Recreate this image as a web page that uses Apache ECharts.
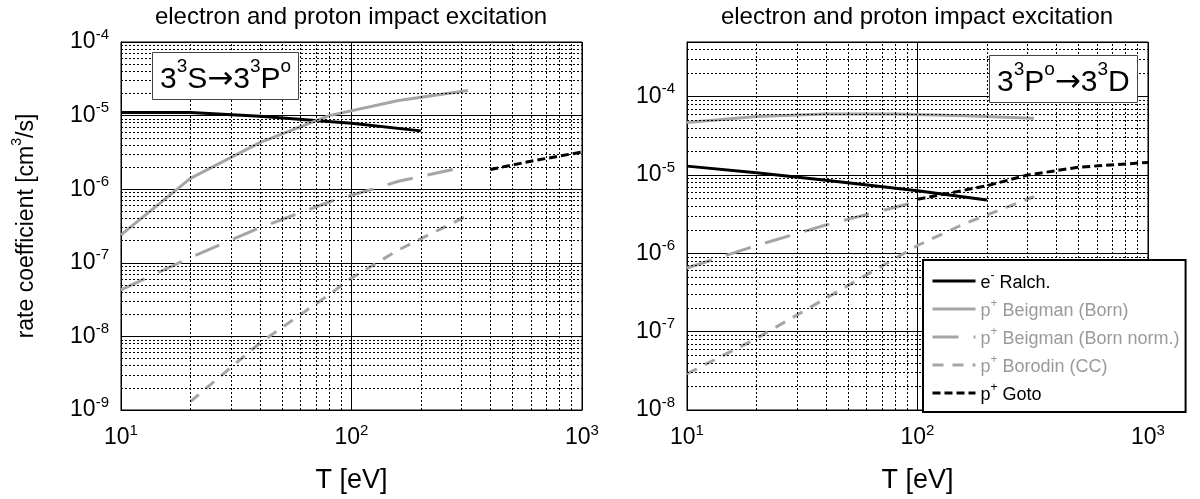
<!DOCTYPE html>
<html>
<head>
<meta charset="utf-8">
<script src="https://cdn.jsdelivr.net/npm/echarts@6.0.0/dist/echarts.min.js"></script>
<style>
html,body{margin:0;padding:0;background:#fff;}
#chart{width:1200px;height:499px;}
</style>
</head>
<body>
<div id="chart"></div>
<script>
// ---------------- data ----------------
const seriesNames = ['e- Ralch.', 'p+ Beigman (Born)', 'p+ Beigman (Born norm.)', 'p+ Borodin (CC)', 'p+ Goto'];
const titleText = 'electron and proton impact excitation';
const xAxisName = 'T [eV]';
const yAxisName = '{t|rate coefficient [cm}{s|3}{t|/s]}';
const leftLabel = '{n|3}{s|3}{n|S}{a|\u2192}{n|3}{s|3}{n|P}{s|o}';
const rightLabel = '{n|3}{s|3}{n|P}{s|o}{a|\u2192}{n|3}{s|3}{n|D}';
const legendLabels = ['{t|e}{u|-}{t| Ralch.}', '{t|p}{u|+}{t| Beigman (Born)}', '{t|p}{u|+}{t| Beigman (Born norm.)}', '{t|p}{u|+}{t| Borodin (CC)}', '{t|p}{u|+}{t| Goto}'];

// axis ranges
const xRange = [10, 1000];
const leftYRange = [1e-9, 1e-4];
const rightYRange = [1e-8, 5e-4];

// Left panel: 3^3S -> 3^3P^o
const leftRalchT = [10, 20, 40, 100, 200];
const leftRalchV = [1.1e-5, 1.1e-5, 9.8e-6, 7.9e-6, 6.2e-6];
const leftBornT = [10, 20, 40, 80, 160, 320];
const leftBornV = [2.4e-7, 1.4e-6, 4.3e-6, 1.0e-5, 1.6e-5, 2.2e-5];
const leftNormT = [10, 20, 40, 80, 160, 320];
const leftNormV = [4.3e-8, 1.18e-7, 3.0e-7, 6.7e-7, 1.28e-6, 2.05e-6];
const leftBorodinT = [20, 40, 80, 100, 160, 320];
const leftBorodinV = [1.3e-9, 8.1e-9, 3.7e-8, 6.2e-8, 1.5e-7, 4.4e-7];
const leftGotoT = [400, 600, 1000];
const leftGotoV = [1.85e-6, 2.4e-6, 3.2e-6];

// Right panel: 3^3P^o -> 3^3D
const rightRalchT = [10, 20, 40, 100, 200];
const rightRalchV = [1.3e-5, 1.07e-5, 8.6e-6, 6.3e-6, 4.8e-6];
const rightBornT = [10, 20, 40, 80, 160, 320];
const rightBornV = [4.7e-5, 5.6e-5, 6.0e-5, 6.0e-5, 5.7e-5, 5.3e-5];
const rightNormT = [10, 20, 40, 100];
const rightNormV = [6.5e-7, 1.26e-6, 2.3e-6, 4.6e-6];
const rightBorodinT = [10, 20, 40, 100, 160, 320];
const rightBorodinV = [2.9e-8, 8.2e-8, 2.66e-7, 1.26e-6, 2.4e-6, 5.3e-6];
const rightGotoT = [100, 200, 300, 500, 1000];
const rightGotoV = [4.9e-6, 7.3e-6, 1.0e-5, 1.26e-5, 1.45e-5];

// minor grid multipliers (log decades)
const minorMult = [2, 3, 4, 5, 6, 7, 8, 9];

// ---------------- styles ----------------
const FONT = '"Liberation Sans", Arial, Helvetica, sans-serif';
const GRAY = '#a5a5a5';
const lineStyles = [
  {color: '#000', width: 3, type: 'solid'},
  {color: GRAY, width: 3, type: 'solid'},
  {color: GRAY, width: 3, type: [26, 15]},
  {color: GRAY, width: 3, type: [11, 9]},
  {color: '#000', width: 3, type: [8, 4]}
];
const legendColors = ['#000', '#9a9a9a', '#9a9a9a', '#9a9a9a', '#000'];

function pairs(t, v) { return t.map((x, i) => [x, v[i]]); }

const panels = [
  {T: [leftRalchT, leftBornT, leftNormT, leftBorodinT, leftGotoT],
   V: [leftRalchV, leftBornV, leftNormV, leftBorodinV, leftGotoV], y: leftYRange},
  {T: [rightRalchT, rightBornT, rightNormT, rightBorodinT, rightGotoT],
   V: [rightRalchV, rightBornV, rightNormV, rightBorodinV, rightGotoV], y: rightYRange}
];

function powLabel(v) {
  const e = Math.log10(v);
  const r = Math.round(e);
  if (Math.abs(e - r) > 1e-6) return '';
  return '{b|10}{s|' + r + '}';
}
const richPow = {
  b: {fontFamily: FONT, fontSize: 23, color: '#000', lineHeight: 30, verticalAlign: 'middle'},
  s: {fontFamily: FONT, fontSize: 15, color: '#000', lineHeight: 15, verticalAlign: 'top'}
};

function minorValues(range) {
  const out = [];
  const lo = Math.floor(Math.log10(range[0]) + 1e-9);
  const hi = Math.ceil(Math.log10(range[1]) - 1e-9);
  for (let e = lo; e < hi; e++) {
    minorMult.forEach(m => {
      const v = m * Math.pow(10, e);
      if (v > range[0] * 1.0001 && v < range[1] * 0.9999) out.push(v);
    });
  }
  return out;
}

const grids = [
  {left: 121, top: 42, width: 461, height: 377},
  {left: 687, top: 42, width: 461, height: 377}
];

const xAxes = [], yAxes = [], series = [];
panels.forEach((p, i) => {
  Object.assign(grids[i], {show: true, borderColor: '#000', borderWidth: 1, backgroundColor: '#fff'});
  xAxes.push({
    type: 'log', logBase: 10, gridIndex: i, min: xRange[0], max: xRange[1],
    axisLine: {show: true, lineStyle: {color: '#000', width: 1}},
    axisTick: {show: false},
    splitLine: {show: true, lineStyle: {color: '#000', width: 1}},
    axisLabel: {formatter: powLabel, rich: richPow, margin: 13, color: '#000', showMinLabel: true, showMaxLabel: true, hideOverlap: false},
    name: xAxisName, nameLocation: 'middle', nameGap: 57,
    nameTextStyle: {fontFamily: FONT, fontSize: 27, color: '#000'}
  });
  const ya = {
    type: 'log', logBase: 10, gridIndex: i, min: p.y[0], max: p.y[1],
    axisLine: {show: true, lineStyle: {color: '#000', width: 1}},
    axisTick: {show: false},
    splitLine: {show: true, lineStyle: {color: '#000', width: 1}},
    axisLabel: {formatter: powLabel, rich: richPow, margin: 12, color: '#000', showMinLabel: true, showMaxLabel: true, hideOverlap: false}
  };
  if (i === 0) {
    Object.assign(ya, {
      name: yAxisName, nameLocation: 'middle', nameGap: 83,
      nameTextStyle: {fontFamily: FONT, fontSize: 23, color: '#000',
        rich: {t: {fontFamily: FONT, fontSize: 23, color: '#000', lineHeight: 28, verticalAlign: 'bottom'},
               s: {fontFamily: FONT, fontSize: 14, color: '#000', lineHeight: 14, verticalAlign: 'top'}}}
    });
  }
  yAxes.push(ya);

  // minor dotted grid lines
  const mx = minorValues(xRange).map(v => ({xAxis: v}));
  const my = minorValues(p.y).map(v => ({yAxis: v}));
  series.push({
    type: 'line', xAxisIndex: i, yAxisIndex: i, data: [], silent: true, z: 1,
    markLine: {
      silent: true, symbol: ['none', 'none'], animation: false, precision: 20,
      label: {show: false}, emphasis: {disabled: true},
      lineStyle: {color: '#000', width: 1, type: [2, 2], opacity: 1},
      data: mx.concat(my)
    }
  });

  seriesNames.forEach((name, k) => {
    series.push({
      type: 'line', name: name, xAxisIndex: i, yAxisIndex: i,
      data: pairs(p.T[k], p.V[k]),
      symbol: 'none', showSymbol: false, smooth: false, z: 3,
      lineStyle: lineStyles[k], itemStyle: {color: lineStyles[k].color},
      emphasis: {disabled: true}, animation: false
    });
  });
});

const legendRich = {
  t: {fontFamily: FONT, fontSize: 18, lineHeight: 22, verticalAlign: 'bottom'},
  u: {fontFamily: FONT, fontSize: 12, lineHeight: 12, verticalAlign: 'top'}
};

const annRich = {
  n: {fontFamily: FONT, fontSize: 30, fontWeight: 'normal', color: '#000', lineHeight: 38, verticalAlign: 'bottom'},
  a: {fontFamily: '"DejaVu Sans", sans-serif', fontSize: 31, fontWeight: 'normal', color: '#000', lineHeight: 38, verticalAlign: 'bottom'},
  s: {fontFamily: FONT, fontSize: 19, fontWeight: 'normal', color: '#000', lineHeight: 19, verticalAlign: 'top'}
};

const option = {
  animation: false,
  backgroundColor: '#fff',
  title: [
    {text: titleText, left: 351, top: 5, textAlign: 'center', padding: 0,
     textStyle: {fontFamily: FONT, fontSize: 24, fontWeight: 'normal', color: '#000'}},
    {text: titleText, left: 917, top: 5, textAlign: 'center', padding: 0,
     textStyle: {fontFamily: FONT, fontSize: 24, fontWeight: 'normal', color: '#000'}},
    {text: leftLabel, left: 152, top: 52, padding: [5, 8, 5, 8], z: 10,
     backgroundColor: '#fff', borderColor: '#444', borderWidth: 1,
     textStyle: {fontWeight: 'normal', rich: annRich}},
    {text: rightLabel, left: 989, top: 55, padding: [5, 8, 5, 8], z: 10,
     backgroundColor: '#fff', borderColor: '#444', borderWidth: 1,
     textStyle: {fontWeight: 'normal', rich: annRich}}
  ],
  grid: grids,
  xAxis: xAxes,
  yAxis: yAxes,
  legend: {
    orient: 'vertical', left: 923, top: 260, z: 10,
    data: seriesNames.map((n, i) => ({name: n, textStyle: {color: legendColors[i]}})),
    formatter: n => legendLabels[seriesNames.indexOf(n)],
    itemWidth: 43, itemHeight: 14, itemGap: 6,
    padding: [10, 6, 8, 8],
    backgroundColor: '#fff', borderColor: '#000', borderWidth: 2, borderRadius: 0,
    selectedMode: false,
    itemStyle: {opacity: 0},
    lineStyle: {width: 3},
    textStyle: {fontFamily: FONT, fontSize: 18, rich: legendRich}
  },
  series: series
};

const chart = echarts.init(document.getElementById('chart'), null, {renderer: 'canvas'});
chart.setOption(option);
</script>
</body>
</html>
